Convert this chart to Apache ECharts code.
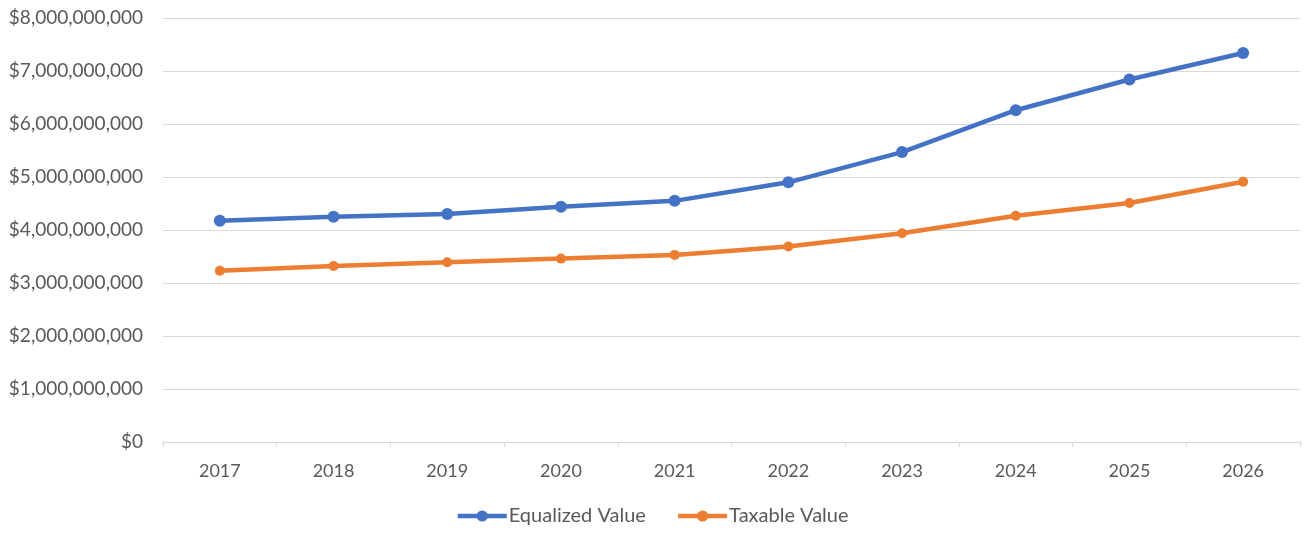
<!DOCTYPE html>
<html>
<head>
<meta charset="utf-8">
<script src="https://cdn.jsdelivr.net/npm/echarts@6/dist/echarts.min.js"></script>
<style>html,body{margin:0;padding:0;background:#fff}#c{width:1304px;height:537px}</style>
</head>
<body>
<div id="c"></div>
<script>
const categories = ['2017','2018','2019','2020','2021','2022','2023','2024','2025','2026'];
const equalizedValue = [4175000000, 4250000000, 4300000000, 4440000000, 4550000000, 4900000000, 5470000000, 6260000000, 6840000000, 7340000000];
const taxableValue = [3230000000, 3320000000, 3390000000, 3460000000, 3530000000, 3690000000, 3940000000, 4270000000, 4510000000, 4910000000];
const seriesNames = ['Equalized Value', 'Taxable Value'];

const FONT = 'Lato, "Open Sans", sans-serif';
const chart = echarts.init(document.getElementById('c'), null, {renderer: 'canvas'});
chart.setOption({
  animation: false,
  textStyle: {fontFamily: FONT},
  grid: {left: 163, right: 4, top: 18, bottom: 95, containLabel: false},
  legend: {
    bottom: 6, left: 'center',
    itemWidth: 49, itemHeight: 14, itemGap: 30,
    lineStyle: {width: 4.5},
    textStyle: {color: '#595959', fontSize: 20, fontFamily: FONT, padding: [0,0,0,-3]},
    data: seriesNames
  },
  xAxis: {
    type: 'category', data: categories, boundaryGap: true,
    axisLine: {lineStyle: {color: '#d9d9d9', width: 1}},
    axisTick: {show: true, length: 5, lineStyle: {color: '#d9d9d9'}},
    axisLabel: {color: '#595959', fontSize: 18, margin: 20, fontFamily: FONT}
  },
  yAxis: {
    type: 'value', min: 0, max: 8000000000, interval: 1000000000,
    axisLine: {show: false}, axisTick: {show: false},
    splitLine: {lineStyle: {color: '#d9d9d9', width: 1}},
    axisLabel: {
      color: '#595959', fontSize: 19, margin: 20, fontFamily: FONT,
      formatter: v => '$' + v.toLocaleString('en-US')
    }
  },
  series: [
    {name: seriesNames[0], type: 'line', data: equalizedValue,
     symbol: 'circle', symbolSize: 12, color: '#4472c4',
     lineStyle: {width: 4.5, color: '#4472c4'}, itemStyle: {color: '#4472c4'}},
    {name: seriesNames[1], type: 'line', data: taxableValue,
     symbol: 'circle', symbolSize: 10, color: '#ed7d31',
     lineStyle: {width: 4.5, color: '#ed7d31'}, itemStyle: {color: '#ed7d31'}}
  ]
});
</script>
</body>
</html>
